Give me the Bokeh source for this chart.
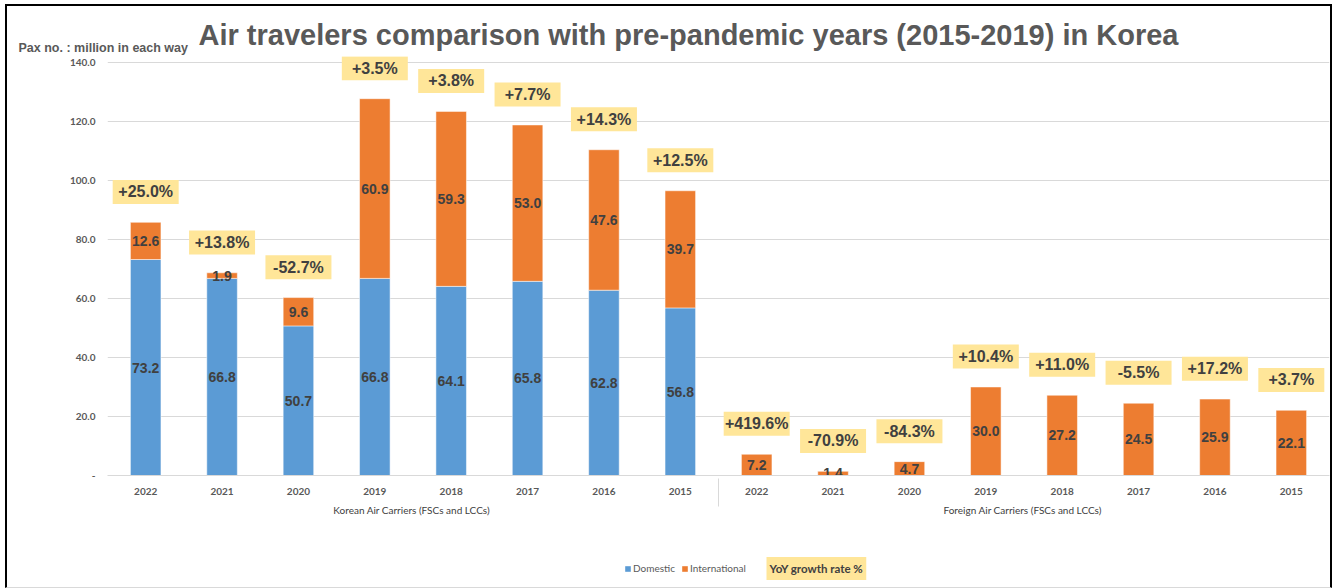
from bokeh.plotting import figure
from bokeh.layouts import column
from bokeh.models import (ColumnDataSource, FactorRange, FixedTicker, Label, Legend,
                          LegendItem, Range1d)
from bokeh.core.properties import value
from bokeh.embed import file_html
from bokeh.resources import INLINE

# ---------------- data ----------------
groups = ["Korean Air Carriers  (FSCs and LCCs)", "Foreign Air Carriers  (FSCs and LCCs)"]
years = ["2022", "2021", "2020", "2019", "2018", "2017", "2016", "2015"]

kor_domestic = [73.2, 66.8, 50.7, 66.8, 64.1, 65.8, 62.8, 56.8]
kor_international = [12.6, 1.9, 9.6, 60.9, 59.3, 53.0, 47.6, 39.7]
kor_growth = ["+25.0%", "+13.8%", "-52.7%", "+3.5%", "+3.8%", "+7.7%", "+14.3%", "+12.5%"]

for_international = [7.2, 1.4, 4.7, 30.0, 27.2, 24.5, 25.9, 22.1]
for_growth = ["+419.6%", "-70.9%", "-84.3%", "+10.4%", "+11.0%", "-5.5%", "+17.2%", "+3.7%"]

y_ticks = [0, 20, 40, 60, 80, 100, 120, 140]

title_text = "Air travelers comparison with pre-pandemic years (2015-2019) in Korea"
unit_text = "Pax no. : million in each way"
series_names = ["Domestic", "International"]
growth_name = "YoY growth rate %"

# ---------------- styles ----------------
BLUE = "#5B9BD5"
ORANGE = "#ED7D31"
YELLOW = "#FFE699"
DARK = "#404040"
GRAY = "#595959"
GRID = "#D9D9D9"
LABEL_GAP = 10.3   # growth label centre above bar top (data units)
W = 1323
NAN = float("nan")

kor_x = [(groups[0], y) for y in years]
for_x = [(groups[1], y) for y in years]
all_x = kor_x + for_x

dom_src = ColumnDataSource(dict(
    x=kor_x, top=kor_domestic,
    mid=[v / 2 for v in kor_domestic],
    lab=[f"{v:.1f}" for v in kor_domestic]))

int_bottom = kor_domestic + [0.0] * len(for_international)
int_vals = kor_international + for_international
int_src = ColumnDataSource(dict(
    x=all_x, bottom=int_bottom,
    top=[b + v for b, v in zip(int_bottom, int_vals)],
    mid=[b + v / 2 for b, v in zip(int_bottom, int_vals)],
    lab=[f"{v:.1f}" for v in int_vals]))

growth = kor_growth + for_growth
tops = [b + v for b, v in zip(int_bottom, int_vals)]
gr_src = ColumnDataSource(dict(x=all_x, y=[t + LABEL_GAP for t in tops], lab=growth))


def blank_fig(h):
    f = figure(width=W, height=h, x_range=Range1d(0, 1), y_range=Range1d(0, 1),
               output_backend="svg", toolbar_location=None,
               x_axis_location=None, y_axis_location=None,
               min_border_left=0, min_border_right=0, min_border_top=0, min_border_bottom=0)
    f.grid.visible = False
    f.outline_line_color = None
    f.frame_align = False
    return f


# ---------------- header (title + unit) ----------------
head = blank_fig(50)
head.add_layout(Label(x=191, y=22, x_units="screen", y_units="screen", text=title_text,
                      text_align="left", text_baseline="middle",
                      text_font="Liberation Sans", text_font_style="bold", text_font_size="29px",
                      text_color=GRAY))
head.add_layout(Label(x=11, y=9, x_units="screen", y_units="screen", text=unit_text,
                      text_align="left", text_baseline="middle",
                      text_font="Liberation Sans", text_font_style="bold", text_font_size="12.5px",
                      text_color=GRAY))

# ---------------- main chart ----------------
p = figure(
    x_range=FactorRange(*all_x, group_padding=0, range_padding=0),
    y_range=(0, 142),
    width=W, height=464,
    output_backend="svg", toolbar_location=None,
    min_border_left=100, min_border_right=1, min_border_top=0, min_border_bottom=45,
)
p.outline_line_color = None
p.frame_align = False

BAR_W = 0.4
p.vbar(x="x", top="top", bottom=0, width=BAR_W, source=dom_src,
       fill_color=BLUE, line_color="white", line_alpha=0.5, line_width=1)
p.vbar(x="x", top="top", bottom="bottom", width=BAR_W, source=int_src,
       fill_color=ORANGE, line_color="white", line_alpha=0.5, line_width=1)

for src in (dom_src, int_src):
    p.text(x="x", y="mid", text="lab", source=src, text_align="center", text_baseline="middle",
           text_font=value("Liberation Sans"), text_font_style="bold", text_font_size="14px",
           text_color=DARK)

p.rect(x="x", y="y", width=66, height=24, width_units="screen", height_units="screen",
       source=gr_src, fill_color=YELLOW, line_color=None)
p.text(x="x", y="y", text="lab", source=gr_src, text_align="center", text_baseline="middle",
       text_font=value("Liberation Sans"), text_font_style="bold", text_font_size="16px",
       text_color=DARK)

p.yaxis.ticker = FixedTicker(ticks=y_ticks)
p.yaxis.major_label_overrides = {t: ("-" if t == 0 else f"{t:.1f}") for t in y_ticks}
p.yaxis.axis_line_color = None
p.yaxis.major_tick_line_color = None
p.yaxis.minor_tick_line_color = None
p.yaxis.major_label_standoff = 6
p.yaxis.major_label_text_font = "Lato"
p.yaxis.major_label_text_font_style = "bold"
p.yaxis.major_label_text_font_size = "10px"
p.yaxis.major_label_text_color = GRAY

p.ygrid.grid_line_color = GRID
p.ygrid.grid_line_width = 1
p.xgrid.grid_line_color = None

p.xaxis.axis_line_color = GRID
p.xaxis.axis_line_width = 1
p.xaxis.major_tick_line_color = None
p.xaxis.minor_tick_line_color = None
p.xaxis.major_label_standoff = 6
p.xaxis.major_label_text_font = "Lato"
p.xaxis.major_label_text_font_style = "bold"
p.xaxis.major_label_text_font_size = "10px"
p.xaxis.major_label_text_color = GRAY
p.xaxis.group_text_font = "Lato"
p.xaxis.group_text_font_size = "10px"
p.xaxis.group_text_font_style = "normal"
p.xaxis.group_text_color = DARK
p.xaxis.separator_line_color = GRID
p.xaxis.separator_line_width = 1

# ---------------- legend strip ----------------
foot = blank_fig(67)
r1 = foot.vbar(x=[NAN], top=[NAN], width=0.1, fill_color=BLUE, line_color=None)
r2 = foot.vbar(x=[NAN], top=[NAN], width=0.1, fill_color=ORANGE, line_color=None)
legend = Legend(items=[LegendItem(label=series_names[0], renderers=[r1]),
                       LegendItem(label=series_names[1], renderers=[r2])],
                orientation="horizontal", location=(617, 12),
                glyph_width=7, glyph_height=7, label_standoff=2, spacing=6,
                padding=0, margin=0, border_line_color=None, background_fill_alpha=0,
                label_text_font="Lato", label_text_font_size="10px", label_text_color=GRAY,
                label_height=14)
foot.add_layout(legend, "center")
foot.add_layout(Label(x=759, y=19, x_units="screen", y_units="screen", text=growth_name,
                      text_baseline="middle", text_align="left",
                      text_font="Lato", text_font_style="bold", text_font_size="11.5px",
                      text_color=DARK, background_fill_color=YELLOW, padding=(3, 5)))

layout = column(head, p, foot, spacing=0)
layout.margin = (4, 0, 0, 5)
layout.styles = {"border-left": "2px solid black", "border-top": "2px solid black",
                 "border-right": "2px solid black", "border-bottom": "1px solid #D9D9D9",
                 "background-color": "white"}

open("out.html", "w").write(file_html(layout, INLINE))
